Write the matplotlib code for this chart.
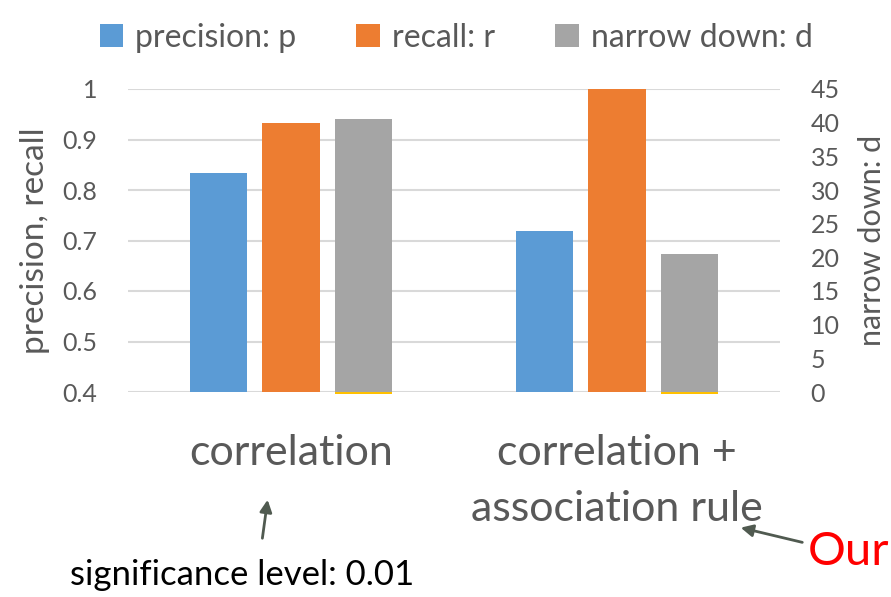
import matplotlib
matplotlib.use("Agg")
import matplotlib.pyplot as plt
import numpy as np

plt.rcParams['font.family'] = ['Lato', 'DejaVu Sans']

categories = ["correlation", "correlation +\nassociation rule"]
precision = [0.833, 0.718]
recall = [0.933, 1.0]
narrow_down = [40.5, 20.5]

left_ticks = [0.4, 0.5, 0.6, 0.7, 0.8, 0.9, 1.0]
left_labels = ["0.4", "0.5", "0.6", "0.7", "0.8", "0.9", "1"]
right_ticks = [0, 5, 10, 15, 20, 25, 30, 35, 40, 45]

BLUE = "#5B9BD5"
ORANGE = "#ED7D31"
GRAY = "#A5A5A5"
YELLOW = "#FFC000"
TEXT = "#595959"

W, H = 891, 597
fig = plt.figure(figsize=(W / 100, H / 100), dpi=100)
ax = fig.add_axes([128 / W, 205 / H, 652 / W, 303 / H])
ax2 = ax.twinx()

x = np.arange(len(categories))
bw = 0.175
step = 0.221

ax.bar(x - step, precision, bw, bottom=0, color=BLUE, label="precision: p", zorder=3)
ax.bar(x, recall, bw, color=ORANGE, label="recall: r", zorder=3)
ax2.bar(x + step, narrow_down, bw, color=GRAY, label="narrow down: d", zorder=3)
# zero-valued series sitting under the gray bars
ax2.bar(x + step, [-0.25] * 2, bw, color=YELLOW, clip_on=False, zorder=1)

ax.set_xlim(-0.5, 1.5)
ax.set_ylim(0.4, 1.0)
ax2.set_ylim(0, 45)
ax.set_yticks(left_ticks)
ax.set_yticklabels(left_labels)
ax2.set_yticks(right_ticks)

for a in (ax, ax2):
    for s in a.spines.values():
        s.set_visible(False)
ax.yaxis.grid(True, color="#D9D9D9", linewidth=1.5, zorder=0)
ax.set_axisbelow(True)
ax.tick_params(axis="y", length=0, pad=22, labelsize=18, labelcolor=TEXT)
ax2.tick_params(axis="y", length=0, pad=22, labelsize=18, labelcolor=TEXT)
ax.set_xticks(x)
ax.set_xticklabels(categories, fontsize=31, color=TEXT, linespacing=1.6, va="top")
ax.tick_params(axis="x", length=0, pad=30)

ax.set_ylabel("precision, recall", fontsize=24, color=TEXT, labelpad=9)
ax2.set_ylabel("narrow down: d", fontsize=22, color=TEXT, labelpad=13)

fig.legend(handles=ax.containers[:2] + ax2.containers[:1], loc="upper center",
           bbox_to_anchor=(456 / W, 1.01), ncol=3, frameon=False, fontsize=23,
           handlelength=0.75, handleheight=0.75, handletextpad=0.35, columnspacing=1.9,
           labelcolor=TEXT)

arrow = dict(arrowstyle="-|>", color="#505A50", lw=2, mutation_scale=18)
fig.text(242 / W, 1 - 575 / H, "significance level: 0.01", fontsize=25,
         color="black", ha="center", va="center")
fig.add_artist(matplotlib.patches.FancyArrowPatch(
    (262 / W, 1 - 541 / H), (268 / W, 1 - 497 / H),
    transform=fig.transFigure, **arrow))
fig.text(808 / W, 1 - 552 / H, "Our", fontsize=34, color="red", ha="left", va="center")
fig.add_artist(matplotlib.patches.FancyArrowPatch(
    (805 / W, 1 - 543 / H), (738 / W, 1 - 527 / H),
    transform=fig.transFigure, **arrow))

fig.savefig("out.png", dpi=100)
